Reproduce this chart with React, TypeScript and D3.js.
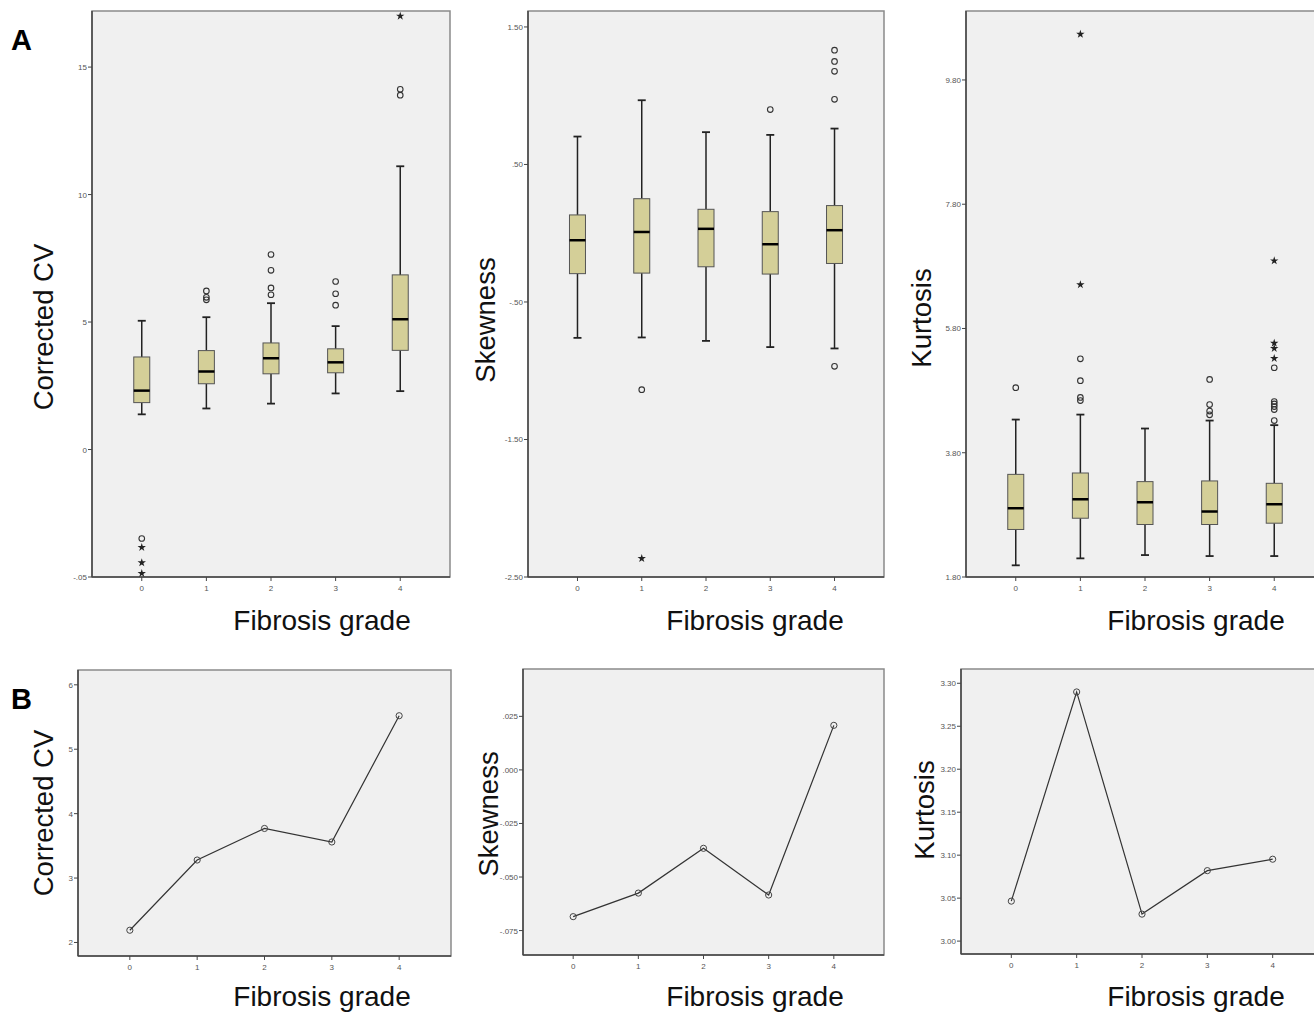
import React from "react";
import * as d3 from "d3";

// DATA
const grades = ["0", "1", "2", "3", "4"];

// Corrected CV box stats per grade
const cvWhiskerLow = [1.38, 1.61, 1.8, 2.2, 2.29];
const cvQ1 = [1.84, 2.58, 2.97, 3.01, 3.89];
const cvMedian = [2.31, 3.06, 3.58, 3.42, 5.11];
const cvQ3 = [3.63, 3.88, 4.18, 3.95, 6.85];
const cvWhiskerHigh = [5.05, 5.19, 5.74, 4.84, 11.11];
const cvOutliers = [[-3.49], [6.22, 5.97, 5.87], [7.65, 7.03, 6.34, 6.07], [6.59, 6.11, 5.66], [14.13, 13.9]];
const cvExtremes = [[-3.84, -4.44, -4.86], [], [], [], [17.0]];
const cvTicks = [-5, 0, 5, 10, 15];
const cvTickLabels = ["-.05", "0", "5", "10", "15"];

// Skewness box stats
const skWhiskerLow = [-0.761, -0.758, -0.783, -0.828, -0.838];
const skQ1 = [-0.294, -0.29, -0.244, -0.297, -0.22];
const skMedian = [-0.051, 0.009, 0.032, -0.08, 0.022];
const skQ3 = [0.133, 0.251, 0.174, 0.157, 0.201];
const skWhiskerHigh = [0.703, 0.967, 0.735, 0.715, 0.761];
const skOutliers = [[], [-1.138], [], [0.899], [1.331, 1.249, 1.177, 0.974, -0.968]];
const skExtremes = [[], [-2.365], [], [], []];
const skTicks = [-2.5, -1.5, -0.5, 0.5, 1.5];
const skTickLabels = ["-2.50", "-1.50", "-.50", ".50", "1.50"];

// Kurtosis box stats
const kuWhiskerLow = [1.988, 2.1, 2.153, 2.137, 2.137];
const kuQ1 = [2.565, 2.746, 2.645, 2.645, 2.666];
const kuMedian = [2.907, 3.051, 3.003, 2.854, 2.971];
const kuQ3 = [3.452, 3.474, 3.335, 3.346, 3.308];
const kuWhiskerHigh = [4.334, 4.414, 4.19, 4.318, 4.244];
const kuOutliers = [[4.847], [5.312, 4.96, 4.69, 4.64], [], [4.98, 4.575, 4.47, 4.41], [5.168, 4.623, 4.586, 4.543, 4.495, 4.318]];
const kuExtremes = [[], [10.536, 6.506], [], [], [6.89, 5.564, 5.479, 5.319]];
const kuTicks = [1.8, 3.8, 5.8, 7.8, 9.8];
const kuTickLabels = ["1.80", "3.80", "5.80", "7.80", "9.80"];

// Mean lines (panel B)
const cvMeans = [2.19, 3.28, 3.77, 3.56, 5.52];
const cvMeanTicks = [2, 3, 4, 5, 6];
const cvMeanTickLabels = ["2", "3", "4", "5", "6"];
const skMeans = [-0.0685, -0.0575, -0.0366, -0.0584, 0.0208];
const skMeanTicks = [-0.075, -0.05, -0.025, 0, 0.025];
const skMeanTickLabels = ["-.075", "-.050", "-.025", ".000", ".025"];
const kuMeans = [3.0465, 3.2899, 3.0314, 3.082, 3.0953];
const kuMeanTicks = [3.0, 3.05, 3.1, 3.15, 3.2, 3.25, 3.3];
const kuMeanTickLabels = ["3.00", "3.05", "3.10", "3.15", "3.20", "3.25", "3.30"];

const FONT = "'Liberation Sans', Arial, sans-serif";
const BG = "#f0f0f0";
const BOX_FILL = "#d4cf98";

type Frame = { left: number; top: number; right: number; bottom: number };

function Axes({ frame, x, y, ticks, labels, title, titleX, titleY, ytitleX, ytitleY }: any) {
  return (
    <g>
      <rect x={frame.left} y={frame.top} width={frame.right - frame.left} height={frame.bottom - frame.top}
        fill={BG} stroke="#8a8a8a" strokeWidth={1.5} />
      <line x1={frame.left} x2={frame.left} y1={frame.top} y2={frame.bottom} stroke="#444" strokeWidth={1.5} />
      <line x1={frame.left} x2={frame.right} y1={frame.bottom} y2={frame.bottom} stroke="#444" strokeWidth={1.5} />
      {ticks.map((t: number, i: number) => (
        <g key={"y" + i}>
          <line x1={frame.left - 4} x2={frame.left} y1={y(t)} y2={y(t)} stroke="#444" strokeWidth={1} />
          <text x={frame.left - 5} y={y(t) + 3} fontSize={8} fill="#555" textAnchor="end" fontFamily={FONT}>{labels[i]}</text>
        </g>
      ))}
      {grades.map((g, i) => (
        <g key={"x" + i}>
          <line x1={x(i)} x2={x(i)} y1={frame.bottom} y2={frame.bottom + 4} stroke="#444" strokeWidth={1} />
          <text x={x(i)} y={frame.bottom + 14} fontSize={8} fill="#555" textAnchor="middle" fontFamily={FONT}>{g}</text>
        </g>
      ))}
      <text x={titleX} y={titleY} fontSize={28} textAnchor="middle" fontFamily={FONT} fill="#111">Fibrosis grade</text>
      <text transform={`translate(${ytitleX},${ytitleY}) rotate(-90)`} fontSize={27.5} textAnchor="middle" fontFamily={FONT} fill="#111">{title}</text>
    </g>
  );
}

function BoxPanel({ frame, domain, lo, q1, med, q3, hi, outl, ext, ticks, labels, title, titleX, ytitleX, ytitleY }: any) {
  const x = d3.scaleLinear().domain([-0.77, 4.77]).range([frame.left, frame.right]);
  const y = d3.scaleLinear().domain(domain).range([frame.bottom, frame.top]);
  const star = d3.symbol().type(d3.symbolStar).size(22)();
  const bw = 16;
  const cw = 8;
  return (
    <g>
      <Axes frame={frame} x={x} y={y} ticks={ticks} labels={labels} title={title} titleX={titleX} titleY={630} ytitleX={ytitleX} ytitleY={ytitleY} />
      {grades.map((g, i) => (
        <g key={i}>
          <line x1={x(i)} x2={x(i)} y1={y(hi[i])} y2={y(q3[i])} stroke="#222" strokeWidth={1.5} />
          <line x1={x(i)} x2={x(i)} y1={y(q1[i])} y2={y(lo[i])} stroke="#222" strokeWidth={1.5} />
          <line x1={x(i) - cw / 2} x2={x(i) + cw / 2} y1={y(hi[i])} y2={y(hi[i])} stroke="#222" strokeWidth={1.8} />
          <line x1={x(i) - cw / 2} x2={x(i) + cw / 2} y1={y(lo[i])} y2={y(lo[i])} stroke="#222" strokeWidth={1.8} />
          <rect x={x(i) - bw / 2} y={y(q3[i])} width={bw} height={y(q1[i]) - y(q3[i])} fill={BOX_FILL} stroke="#555" strokeWidth={1} />
          <line x1={x(i) - bw / 2} x2={x(i) + bw / 2} y1={y(med[i])} y2={y(med[i])} stroke="#000" strokeWidth={2.5} />
          {outl[i].map((v: number, j: number) => (
            <circle key={"o" + j} cx={x(i)} cy={y(v)} r={2.8} fill="none" stroke="#333" strokeWidth={1.1} />
          ))}
          {ext[i].map((v: number, j: number) => (
            <path key={"e" + j} d={star as string} transform={`translate(${x(i)},${y(v)})`} fill="#222" />
          ))}
        </g>
      ))}
    </g>
  );
}

function LinePanel({ frame, domain, values, ticks, labels, title, titleX, ytitleX, ytitleY }: any) {
  const x = d3.scaleLinear().domain([-0.77, 4.77]).range([frame.left, frame.right]);
  const y = d3.scaleLinear().domain(domain).range([frame.bottom, frame.top]);
  const line = d3.line<number>().x((d, i) => x(i)).y((d) => y(d));
  return (
    <g>
      <Axes frame={frame} x={x} y={y} ticks={ticks} labels={labels} title={title} titleX={titleX} titleY={1006} ytitleX={ytitleX} ytitleY={ytitleY} />
      <path d={line(values) as string} fill="none" stroke="#333" strokeWidth={1.2} />
      {values.map((v: number, i: number) => (
        <circle key={i} cx={x(i)} cy={y(v)} r={3.1} fill="none" stroke="#444" strokeWidth={1} />
      ))}
    </g>
  );
}

export default function App() {
  const f1: Frame = { left: 92, top: 11, right: 450, bottom: 577 };
  const f2: Frame = { left: 528, top: 11, right: 884, bottom: 577 };
  const f3: Frame = { left: 966, top: 11, right: 1324, bottom: 577 };
  const g1: Frame = { left: 78, top: 670, right: 451, bottom: 956 };
  const g2: Frame = { left: 523, top: 669, right: 884, bottom: 955 };
  const g3: Frame = { left: 961, top: 669, right: 1323, bottom: 954 };
  return (
    <svg width={1314} height={1012} style={{ position: "absolute", left: 0, top: 0, background: "#fff" }}>
      <text x={11} y={50} fontSize={29} fontWeight="bold" fontFamily={FONT}>A</text>
      <text x={11} y={709} fontSize={29} fontWeight="bold" fontFamily={FONT}>B</text>

      <BoxPanel frame={f1} domain={[-5, 17.2]} lo={cvWhiskerLow} q1={cvQ1} med={cvMedian} q3={cvQ3} hi={cvWhiskerHigh}
        outl={cvOutliers} ext={cvExtremes} ticks={cvTicks} labels={cvTickLabels} title="Corrected CV" titleX={322} ytitleX={53} ytitleY={327} />
      <BoxPanel frame={f2} domain={[-2.5, 1.616]} lo={skWhiskerLow} q1={skQ1} med={skMedian} q3={skQ3} hi={skWhiskerHigh}
        outl={skOutliers} ext={skExtremes} ticks={skTicks} labels={skTickLabels} title="Skewness" titleX={755} ytitleX={495} ytitleY={320} />
      <BoxPanel frame={f3} domain={[1.8, 10.91]} lo={kuWhiskerLow} q1={kuQ1} med={kuMedian} q3={kuQ3} hi={kuWhiskerHigh}
        outl={kuOutliers} ext={kuExtremes} ticks={kuTicks} labels={kuTickLabels} title="Kurtosis" titleX={1196} ytitleX={931} ytitleY={318} />

      <LinePanel frame={g1} domain={[1.79, 6.23]} values={cvMeans} ticks={cvMeanTicks} labels={cvMeanTickLabels}
        title="Corrected CV" titleX={322} ytitleX={53} ytitleY={813} />
      <LinePanel frame={g2} domain={[-0.0864, 0.0471]} values={skMeans} ticks={skMeanTicks} labels={skMeanTickLabels}
        title="Skewness" titleX={755} ytitleX={498} ytitleY={814} />
      <LinePanel frame={g3} domain={[2.985, 3.3166]} values={kuMeans} ticks={kuMeanTicks} labels={kuMeanTickLabels}
        title="Kurtosis" titleX={1196} ytitleX={934} ytitleY={810} />
    </svg>
  );
}
